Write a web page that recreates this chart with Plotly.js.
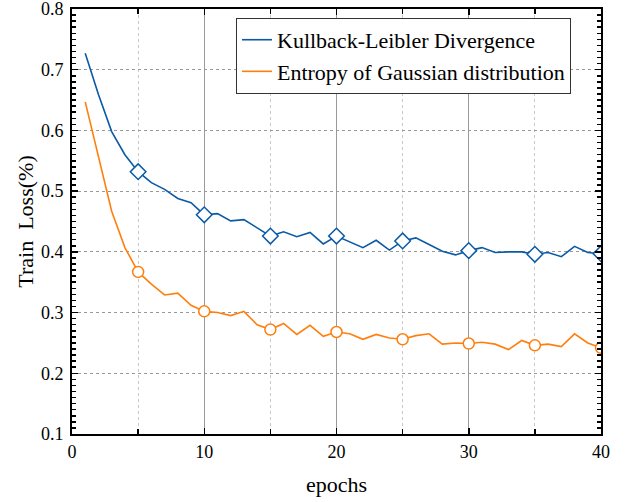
<!DOCTYPE html>
<html>
<head>
<meta charset="utf-8">
<script src="https://cdn.plot.ly/plotly-3.0.1.min.js"></script>
<style>html,body{margin:0;padding:0;background:#fff;}#chart{width:627px;height:502px;}</style>
</head>
<body>
<div id="chart"></div>
<script>
const epochs = [1,2,3,4,5,6,7,8,9,10,11,12,13,14,15,16,17,18,19,20,21,22,23,24,25,26,27,28,29,30,31,32,33,34,35,36,37,38,39,40];
const klLoss = [0.727,0.659,0.598,0.560,0.532,0.514,0.503,0.488,0.481,0.461,0.463,0.451,0.453,0.440,0.426,0.433,0.425,0.432,0.413,0.426,
                0.417,0.407,0.419,0.403,0.418,0.423,0.412,0.401,0.395,0.402,0.407,0.399,0.400,0.400,0.396,0.399,0.392,0.409,0.399,0.397];
const entLoss = [0.647,0.555,0.467,0.407,0.367,0.347,0.329,0.332,0.312,0.302,0.300,0.295,0.302,0.280,0.272,0.282,0.264,0.279,0.261,0.268,
                 0.265,0.256,0.264,0.258,0.256,0.262,0.265,0.248,0.250,0.249,0.251,0.248,0.239,0.254,0.246,0.248,0.244,0.265,0.250,0.242];
const yTickVals = [0.1,0.2,0.3,0.4,0.5,0.6,0.7,0.8];
const yTickText = ['0.1','0.2','0.3','0.4','0.5','0.6','0.7','0.8'];
const markerEvery = 5;
const seriesNames = ['Kullback-Leibler Divergence', 'Entropy of Gaussian distribution'];
const blue = '#0a5aa6', orange = '#ff7f0e';

function sub(arr){ return arr.filter((v,i)=> epochs[i] % markerEvery === 0); }
const mx = sub(epochs);

const traces = [
  {x: epochs, y: klLoss, type:'scatter', mode:'lines', name: seriesNames[0], line:{color:blue, width:1.6}},
  {x: epochs, y: entLoss, type:'scatter', mode:'lines', name: seriesNames[1], line:{color:orange, width:1.6}},
  {x: mx, y: sub(klLoss), type:'scatter', mode:'markers', showlegend:false, hoverinfo:'skip',
   marker:{symbol:'diamond', size:12, color:'#fff', line:{color:blue, width:1.5}}},
  {x: mx, y: sub(entLoss), type:'scatter', mode:'markers', showlegend:false, hoverinfo:'skip',
   marker:{symbol:'circle', size:11, color:'#fff', line:{color:orange, width:1.5}}}
];

const FAM = 'Liberation Serif';
const layout = {
  width:627, height:502,
  margin:{l:72, r:26, t:9, b:68},
  paper_bgcolor:'#fff', plot_bgcolor:'#fff',
  font:{family:FAM, size:18, color:'#000'},
  showlegend:true,
  legend:{x:0.31, y:0.979, xanchor:'left', yanchor:'top', bgcolor:'#fff', bordercolor:'#333', borderwidth:1,
          font:{family:FAM, size:22, color:'#000'}, tracegroupgap:0},
  xaxis:{
    range:[0,40], dtick:10, tick0:0, showgrid:true, gridcolor:'#999', gridwidth:1,
    ticks:'inside', ticklen:6, tickwidth:1.5, tickcolor:'#000', ticklabeloverflow:'allow',
    showline:true, linecolor:'#000', linewidth:2, mirror:'allticks', zeroline:false,
    tickfont:{family:FAM, size:18, color:'#000'},
    minor:{dtick:5, tick0:0, ticks:'inside', ticklen:5, tickcolor:'#000', showgrid:true, gridcolor:'#c8c8c8', griddash:'dot', gridwidth:1},
    title:{text:'epochs', font:{family:FAM, size:22, color:'#000'}, standoff:16}
  },
  yaxis:{
    range:[0.1,0.8], tickmode:'array', tickvals:yTickVals, ticktext:yTickText,
    showgrid:true, gridcolor:'#999', griddash:'dot', gridwidth:1, ticklabeloverflow:'allow',
    ticks:'inside', ticklen:6, tickwidth:1.5, tickcolor:'#000', ticklabelstandoff:3,
    showline:true, linecolor:'#000', linewidth:2, mirror:'allticks', zeroline:false,
    tickfont:{family:FAM, size:18, color:'#000'},
    minor:{dtick:0.01, tick0:0.1, ticks:'inside', ticklen:4, tickcolor:'#000', showgrid:false},
    title:{text:'Train  Loss(%)', font:{family:FAM, size:22, color:'#000'}, standoff:1}
  }
};
Plotly.newPlot('chart', traces, layout, {displayModeBar:false, staticPlot:true});
</script>
</body>
</html>
